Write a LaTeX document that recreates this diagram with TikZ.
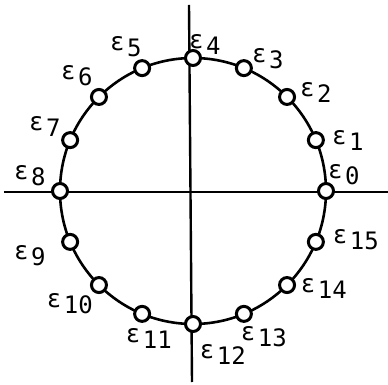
\documentclass[tikz,border=0pt]{standalone}
\usepackage{fontspec}
\usepackage{tikz}
\usetikzlibrary{positioning, calc}
\newfontfamily\labfont{DejaVu Sans Mono}
\newfontfamily\epsfont{DejaVu Sans}
\newcommand{\elab}[1]{{\epsfont\fontsize{25}{28}\selectfont ε}\kern3pt\raisebox{-6pt}{\labfont\fontsize{24}{28}\selectfont #1}}

\begin{document}
\begin{tikzpicture}[
    x=1pt, y=1pt,
    axis/.style={line width=2.4pt, black},
    ring/.style={line width=2.6pt, black},
    point/.style={circle, draw=black, fill=white, line width=3pt, minimum size=15pt, inner sep=0pt},
    elabel/.style={inner sep=0pt, text=black}
]
\useasboundingbox (-193,-194) rectangle (195,191);

% Axes
\coordinate (o) at (0,0);
\coordinate (xl) at (-189,-1);
\coordinate (xr) at (195,-1);
\coordinate (yt) at (-4,186);
\coordinate (yb) at (-1,-191);
\draw[axis] (xl) -- (xr);
\draw[axis] (yt) -- (yb);

% Circle
\draw[ring] (o) circle[radius=133pt];

% Points
\foreach \k in {0,...,15}
    \node[point] (p\k) at (\k*22.5:133) {};

% Labels
\foreach \k/\x/\y in {0/151/16, 1/155/51, 2/123/99, 3/75/132, 4/12/147, 5/-67/144,
                      6/-116/115, 7/-148/65, 8/-163/15, 9/-163/-65,
                      10/-123/-113, 11/-44/-147, 12/30/-163, 13/71/-146,
                      14/131/-97, 15/163/-49}
    \node[elabel] (l\k) at (\x,\y) {\elab{\k}};

\end{tikzpicture}
\end{document}
